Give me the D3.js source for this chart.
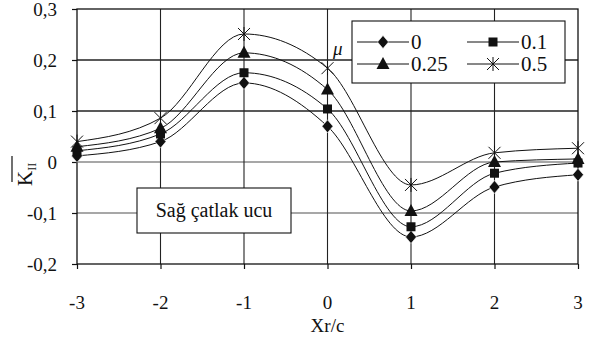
<html><head><meta charset="utf-8"><script src="https://cdn.jsdelivr.net/npm/d3@7/dist/d3.min.js"></script></head>
<body style="margin:0">
<script>
// values
const xs = [-3, -2, -1, 0, 1, 2, 3];
const mu0   = [0.012, 0.040, 0.155, 0.070, -0.147, -0.049, -0.025];
const mu01  = [0.022, 0.055, 0.175, 0.104, -0.127, -0.022, -0.002];
const mu025 = [0.030, 0.066, 0.214, 0.142, -0.096,  0.000,  0.006];
const mu05  = [0.040, 0.086, 0.251, 0.184, -0.045,  0.018,  0.027];
const seriesNames = ["0", "0.1", "0.25", "0.5"];
const yTicks = [-0.2, -0.1, 0, 0.1, 0.2, 0.3];
const xTicks = [-3, -2, -1, 0, 1, 2, 3];

const FONT = '"Times New Roman", "Liberation Serif", Tinos, "Nimbus Roman", FreeSerif, "DejaVu Serif", serif';
const W = 595, H = 338;
const svg = d3.select("body").append("svg").attr("width", W).attr("height", H)
  .attr("font-family", FONT);

const x = d3.scaleLinear().domain([-3, 3]).range([77, 578]);
const y = d3.scaleLinear().domain([-0.2, 0.3]).range([264, 9]);

// plain text helper, always serif
const txt = (parent, tx, ty, str, size) => parent.append("text")
  .attr("x", tx).attr("y", ty)
  .attr("font-family", FONT).style("font-family", FONT)
  .attr("font-size", size).attr("fill", "#111").text(str);

// gridlines (some printed lighter than others in the original)
const gridColor = v => (v === 0 || v === -0.1) ? "#8a8a8a" : "#222";
svg.append("g").selectAll("line").data(yTicks.filter(v => v > -0.2 && v < 0.3)).join("line")
  .attr("x1", x(-3)).attr("x2", x(3))
  .attr("y1", d => y(d)).attr("y2", d => y(d))
  .attr("stroke", gridColor).attr("stroke-width", 1.3);
svg.append("g").selectAll("line").data(xTicks.filter(v => v > -3 && v < 3)).join("line")
  .attr("x1", d => x(d)).attr("x2", d => x(d))
  .attr("y1", y(0.3)).attr("y2", y(-0.2))
  .attr("stroke", "#222").attr("stroke-width", 1.1);

// frame
svg.append("rect")
  .attr("x", x(-3)).attr("y", y(0.3))
  .attr("width", x(3) - x(-3)).attr("height", y(-0.2) - y(0.3))
  .attr("fill", "none").attr("stroke", "#111").attr("stroke-width", 1.3);

// axes: ticks from d3, labels drawn as plain text
const yAxis = svg.append("g").attr("transform", `translate(${x(-3)},0)`)
  .call(d3.axisLeft(y).tickValues(yTicks).tickSize(5).tickFormat(""));
const xAxis = svg.append("g").attr("transform", `translate(0,${y(-0.2)})`)
  .call(d3.axisBottom(x).tickValues(xTicks).tickSize(5).tickFormat(""));
[yAxis, xAxis].forEach(g => {
  g.attr("font-family", FONT);
  g.select(".domain").remove();
  g.selectAll(".tick line").attr("stroke", "#111").attr("stroke-width", 1.2);
});
yTicks.forEach(v => {
  txt(svg, x(-3) - 20, y(v) + 6.5, v === 0 ? "0" : v.toFixed(1).replace(".", ","), 19)
    .attr("text-anchor", "end");
});
xTicks.forEach(v => {
  txt(svg, x(v), 309, String(v), 19).attr("text-anchor", "middle");
});

// axis titles
txt(svg, x(0), 332, "Xr/c", 19).attr("text-anchor", "middle");

const yTitle = svg.append("g").attr("transform", "translate(32,186) rotate(-90)");
txt(yTitle, 0, 0, "K", 21)
  .append("tspan").attr("font-size", 12).attr("dy", 4).text("II");
yTitle.append("line").attr("x1", 4).attr("x2", 30).attr("y1", -20).attr("y2", -20)
  .attr("stroke", "#111").attr("stroke-width", 1.2);

// series
const series = [mu0, mu01, mu025, mu05].map((vals, i) => ({
  name: seriesNames[i],
  points: xs.map((xv, j) => [xv, vals[j]])
}));

const line = d3.line().x(d => x(d[0])).y(d => y(d[1])).curve(d3.curveMonotoneX);
svg.append("g").selectAll("path").data(series).join("path")
  .attr("d", d => line(d.points))
  .attr("fill", "none").attr("stroke", "#111").attr("stroke-width", 1);

function drawMarker(g, kind) {
  if (kind === 0) {
    g.append("path").attr("d", "M0,-6.5L5.5,0L0,6.5L-5.5,0Z")
      .attr("fill", "#111").attr("stroke", "#fff").attr("stroke-width", 0.6);
  } else if (kind === 1) {
    g.append("rect").attr("x", -4.5).attr("y", -4.5).attr("width", 9).attr("height", 9)
      .attr("fill", "#111");
  } else if (kind === 2) {
    g.append("path").attr("d", "M0,-7L6.5,5L-6.5,5Z").attr("fill", "#111");
  } else {
    g.append("path").attr("d", "M-6,-6L6,6M-6,6L6,-6M0,-7L0,7")
      .attr("stroke", "#111").attr("stroke-width", 1).attr("fill", "none");
  }
}

series.forEach((s, i) => {
  svg.append("g").selectAll("g").data(s.points).join("g")
    .attr("transform", d => `translate(${x(d[0])},${y(d[1])})`)
    .each(function () { drawMarker(d3.select(this), i); });
});

// mu label
txt(svg, 333, 55, "\u03bc", 19).attr("font-style", "italic");

// legend
const legend = svg.append("g");
legend.append("rect").attr("x", 352).attr("y", 21).attr("width", 213).attr("height", 62)
  .attr("fill", "#fff").attr("stroke", "#111").attr("stroke-width", 1.1);
const legendPos = [[357, 42], [467, 42], [357, 64], [467, 64]];
seriesNames.forEach((name, i) => {
  const [lx, ly] = legendPos[i];
  const g = legend.append("g");
  g.append("line").attr("x1", lx).attr("x2", lx + 52).attr("y1", ly).attr("y2", ly)
    .attr("stroke", "#111").attr("stroke-width", 1);
  drawMarker(g.append("g").attr("transform", `translate(${lx + 26},${ly})`), i);
  txt(g, lx + 54, ly + 7, name, 21);
});

// annotation box
svg.append("rect").attr("x", 137).attr("y", 188).attr("width", 154).attr("height", 45)
  .attr("fill", "#fff").attr("stroke", "#111").attr("stroke-width", 1.1);
txt(svg, 214, 217, "Sağ çatlak ucu", 20).attr("text-anchor", "middle");
</script></body></html>
